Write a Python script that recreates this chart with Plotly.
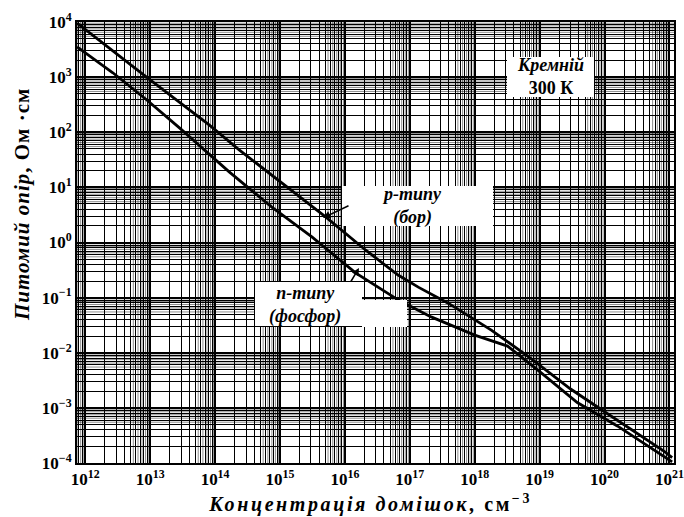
import plotly.graph_objects as go

# Impurity concentration, cm^-3, and resistivity, Ohm*cm
p_conc = [7.5e11, 6.2e12, 8.8e12, 8.2e13, 2.35e14, 5.1e15, 2.1e16, 6.6e16, 1.35e17,
          3.9e17, 1.8e18, 7.3e18, 3.0e19, 1.0e20, 8.2e20, 1.1e21]
p_rho = [9550, 1350, 1000, 135, 47.9, 2.88, 0.724, 0.257, 0.155,
         0.0794, 0.0257, 0.00794, 0.0022, 0.00085, 0.000165, 0.000125]

n_conc = [7.5e11, 2.66e12, 8.8e12, 2.83e13, 1.65e14, 7.5e14, 3.1e15, 1.46e16, 6.6e16,
          2.13e17, 1.0e18, 3.2e18, 9.3e18, 3.8e19, 1.57e20, 1.1e21]
n_rho = [3550, 1200, 389, 120, 19.1, 4.37, 1.26, 0.282, 0.0912,
         0.0447, 0.0209, 0.0132, 0.0049, 0.00125, 0.00047, 0.000105]

x_exps = list(range(12, 22))
y_exps = list(range(-4, 5))
x_tickvals = [10.0 ** e for e in x_exps]
y_tickvals = [10.0 ** e for e in y_exps]
x_ticktext = ["<b>10<sup>%d</sup></b>" % e for e in x_exps]
y_ticktext = ["<b>10<sup>%s</sup></b>" % (str(e).replace("-", "−")) for e in y_exps]

# finer rulings of the log paper (upper part of each decade)
fine_steps = [5.5, 6.5, 7.5, 8.5, 9.5]

W, H = 684, 517
L, R, T, B = 77, 10, 22, 54
PW, PH = W - L - R, H - T - B


def px(x):
    return (x - L) / PW


def py(y):
    return (H - B - y) / PH


SERIF = "Liberation Serif, Times New Roman, serif"

fig = go.Figure()
fig.add_trace(go.Scatter(x=p_conc, y=p_rho, mode="lines", name="p-типу (бор)",
                         line=dict(color="black", width=2.8)))
fig.add_trace(go.Scatter(x=n_conc, y=n_rho, mode="lines", name="n-типу (фосфор)",
                         line=dict(color="black", width=2.8)))

axis_common = dict(
    type="log", showline=True, linecolor="black", linewidth=2, mirror=True,
    showgrid=True, gridcolor="black", gridwidth=2, ticks="", automargin=False,
    ticklabeloverflow="allow",
    tickfont=dict(family=SERIF, size=17, color="black"),
    minor=dict(showgrid=True, gridcolor="black", gridwidth=1.2, dtick="D1"),
    zeroline=False,
)

fig.update_xaxes(**axis_common, range=[11.873, 21.07], tickvals=x_tickvals, ticktext=x_ticktext)
fig.update_yaxes(**axis_common, range=[-4, 4], tickvals=y_tickvals, ticktext=y_ticktext)

# fine rulings
for d in range(11, 21):
    for m in fine_steps:
        v = m * 10.0 ** d
        fig.add_shape(type="line", xref="x", yref="paper", x0=v, x1=v, y0=0, y1=1,
                      line=dict(color="rgba(0,0,0,0.45)", width=1), layer="below")
for d in range(-4, 4):
    for m in fine_steps:
        v = m * 10.0 ** d
        fig.add_shape(type="line", xref="paper", yref="y", x0=0, x1=1, y0=v, y1=v,
                      line=dict(color="rgba(0,0,0,0.45)", width=1), layer="below")

# white label boxes
boxes = [(507, 57, 594, 97), (342, 186, 493, 226), (255, 282, 362, 326), (362, 300, 407, 327)]
for x0, y0, x1, y1 in boxes:
    fig.add_shape(type="rect", xref="paper", yref="paper", x0=px(x0), x1=px(x1),
                  y0=py(y1), y1=py(y0), fillcolor="white", line=dict(width=0), layer="above")

labels = [("<b><i>Кремній</i><br>300 К</b>", 550, 77),
          ("<b><i>p-типу<br>(бор)</i></b>", 412, 206),
          ("<b><i>n-типу<br>(фосфор)</i></b>", 305, 305)]
for txt, x, y in labels:
    fig.add_annotation(text=txt, xref="paper", yref="paper", x=px(x), y=py(y),
                       xanchor="center", yanchor="middle", showarrow=False,
                       font=dict(family=SERIF, size=18, color="black"))

# axis titles
fig.add_annotation(text="<b><i>Концентрація домішок</i>, см<sup>−3</sup></b>",
                   xref="paper", yref="paper", x=px(370), y=py(503),
                   xanchor="center", yanchor="middle", showarrow=False,
                   font=dict(family=SERIF, size=20, color="black"))
fig.add_annotation(text="<b><i>Питомий опір</i>, Ом ·см</b>", textangle=-90,
                   xref="paper", yref="paper", x=px(22), y=py(205),
                   xanchor="center", yanchor="middle", showarrow=False,
                   font=dict(family=SERIF, size=21, color="black"))

# pointer arrows
fig.add_annotation(text="", xref="paper", yref="paper", x=px(323), y=py(218), ax=27, ay=-13,
                   showarrow=True, arrowhead=2, arrowsize=1, arrowwidth=1.5, arrowcolor="black")
fig.add_annotation(text="", xref="paper", yref="paper", x=px(359), y=py(268), ax=-9, ay=15,
                   showarrow=True, arrowhead=2, arrowsize=1, arrowwidth=1.5, arrowcolor="black")

fig.update_layout(width=W, height=H, margin=dict(l=L, r=R, t=T, b=B, autoexpand=False),
                  plot_bgcolor="white", paper_bgcolor="white", showlegend=False)

post = """
document.body.style.margin='0px';
document.querySelectorAll('text.annotation-text').forEach(function(t){
  var s = t.textContent || '';
  if (s.indexOf('Концентрація') === 0) { t.style.letterSpacing = '2.6px'; }
  if (s.indexOf('Питомий') === 0) { t.style.letterSpacing = '1px'; }
});
"""
fig.write_html("out.html", config={"displayModeBar": False}, post_script=post)
